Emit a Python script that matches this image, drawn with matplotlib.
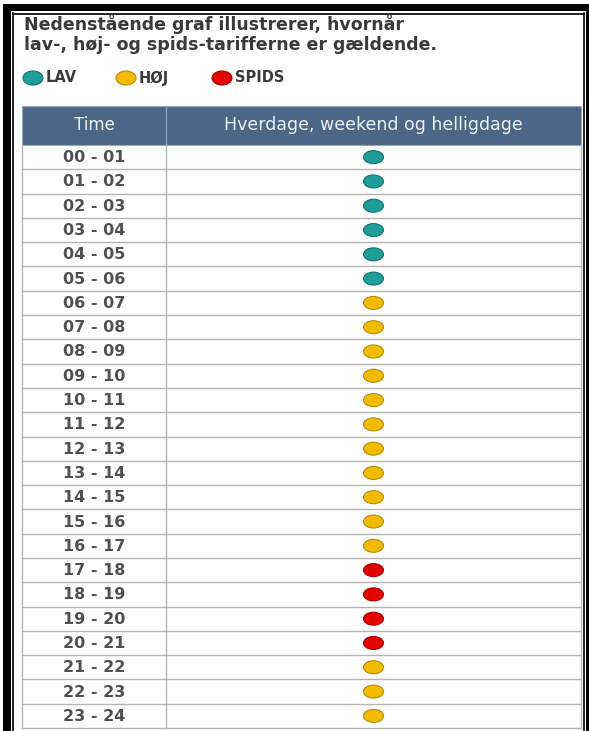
import matplotlib
matplotlib.use("Agg")
import matplotlib.pyplot as plt
from matplotlib.patches import Rectangle, Ellipse

# ---- data ----
title_lines = ["Nedenstående graf illustrerer, hvornår",
               "lav-, høj- og spids-tarifferne er gældende."]
legend_labels = ["LAV", "HØJ", "SPIDS"]
col_headers = ["Time", "Hverdage, weekend og helligdage"]
hours = ["00 - 01", "01 - 02", "02 - 03", "03 - 04", "04 - 05", "05 - 06",
         "06 - 07", "07 - 08", "08 - 09", "09 - 10", "10 - 11", "11 - 12",
         "12 - 13", "13 - 14", "14 - 15", "15 - 16", "16 - 17", "17 - 18",
         "18 - 19", "19 - 20", "20 - 21", "21 - 22", "22 - 23", "23 - 24"]
tariff = ["LAV"] * 6 + ["HØJ"] * 11 + ["SPIDS"] * 4 + ["HØJ"] * 3

fill = {"LAV": "#1f9e99", "HØJ": "#f2bb00", "SPIDS": "#e30000"}
edge = {"LAV": "#137370", "HØJ": "#b88c00", "SPIDS": "#a80000"}

W, H = 589, 731
fig = plt.figure(figsize=(W / 100, H / 100), dpi=100)
ax = fig.add_axes([0, 0, 1, 1])
ax.set_xlim(0, W)
ax.set_ylim(H, 0)
ax.axis("off")

# outer frame
ax.add_patch(Rectangle((3, 4), 8, H, color="black", lw=0))
ax.add_patch(Rectangle((3, 4), W, 7, color="black", lw=0))
ax.plot([13, 13], [13, H], color="black", lw=1.2)
ax.plot([13, 584], [13.5, 13.5], color="black", lw=1.2)
ax.plot([584, 584], [13, H], color="black", lw=1.2)
ax.add_patch(Rectangle((586, 4), 4, H, color="black", lw=0))

font = "DejaVu Sans"
txt = "#3a3a3a"
# title
for i, line in enumerate(title_lines):
    ax.text(24, 24 + i * 20.5, line, fontsize=12.5, color=txt, family=font,
            weight="semibold", va="center", ha="left")

# legend
leg_x = [33, 126, 222]
for lx, lab in zip(leg_x, legend_labels):
    ax.add_patch(Ellipse((lx, 78), 20, 14, facecolor=fill[lab],
                         edgecolor=edge[lab], lw=0.8))
    ax.text(lx + 13, 78, lab, fontsize=10.5, color=txt, family=font,
            weight="semibold", va="center", ha="left")

# table
tx0, tx1 = 22, 581
cdiv = 166
hy0, hy1 = 106, 145
rowh = (728 - hy1) / len(hours)
ax.add_patch(Rectangle((tx0, hy0), tx1 - tx0, hy1 - hy0, facecolor="#4b6686",
                       edgecolor="#9aa8b8", lw=0.8))
ax.plot([cdiv, cdiv], [hy0, hy1], color="#8fa0b5", lw=1)
ax.text((tx0 + cdiv) / 2, (hy0 + hy1) / 2, col_headers[0], fontsize=12,
        color="#eef2f6", family=font, va="center", ha="center")
ax.text((cdiv + tx1) / 2, (hy0 + hy1) / 2, col_headers[1], fontsize=12.5,
        color="#eef2f6", family=font, va="center", ha="center")

grid = "#b4b4b4"
bottom = hy1 + rowh * len(hours)
ax.plot([tx0, tx0], [hy1, bottom], color=grid, lw=1)
ax.plot([tx1, tx1], [hy1, bottom], color=grid, lw=1)
ax.plot([cdiv, cdiv], [hy1, bottom], color=grid, lw=1)
dot_x = (cdiv + tx1) / 2
for i, (h, t) in enumerate(zip(hours, tariff)):
    y0 = hy1 + i * rowh
    yc = y0 + rowh / 2
    ax.plot([tx0, tx1], [y0 + rowh, y0 + rowh], color=grid, lw=1)
    ax.text((tx0 + cdiv) / 2, yc + 0.5, h, fontsize=11.5,
            color="#505050", family=font, weight="bold", va="center",
            ha="center")
    ax.add_patch(Ellipse((dot_x, yc), 20, 13, facecolor=fill[t],
                         edgecolor=edge[t], lw=0.8))

fig.savefig("out.png", dpi=100, facecolor="white")
